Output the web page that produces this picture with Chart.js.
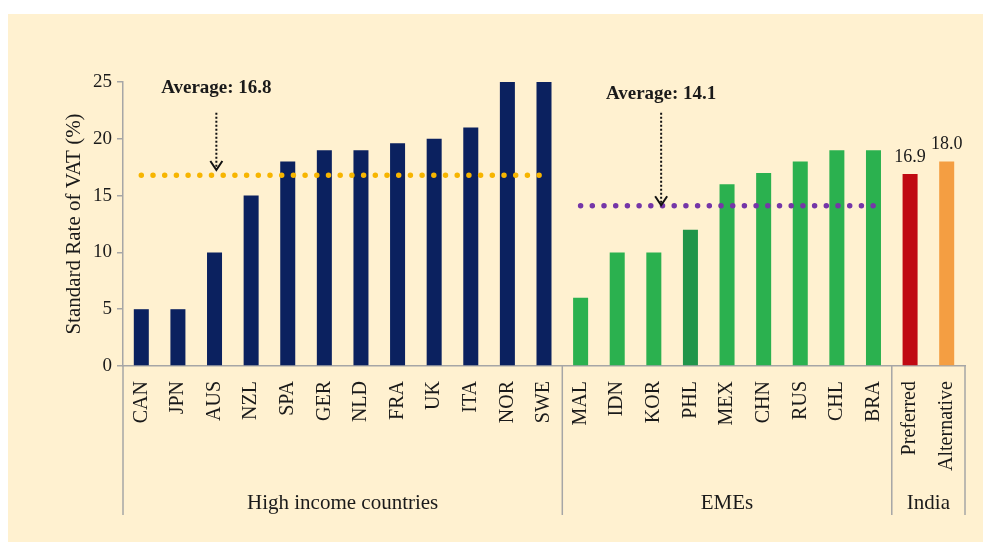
<!DOCTYPE html>
<html>
<head>
<meta charset="utf-8">
<script src="https://cdn.jsdelivr.net/npm/chart.js@4"></script>
<style>
  html, body { margin: 0; padding: 0; background: #fff; }
  #wrap { position: absolute; left: 8px; top: 14px; width: 975px; height: 528px; background: #FFF1D0; }
</style>
</head>
<body>
<div id="wrap"><canvas id="vatChart"></canvas></div>
<script>
// data
const categoriesHigh = ['CAN', 'JPN', 'AUS', 'NZL', 'SPA', 'GER', 'NLD', 'FRA', 'UK', 'ITA', 'NOR', 'SWE'];
const valuesHigh = [5, 5, 10, 15, 18, 19, 19, 19.6, 20, 21, 25, 25];
const categoriesEme = ['MAL', 'IDN', 'KOR', 'PHL', 'MEX', 'CHN', 'RUS', 'CHL', 'BRA'];
const valuesEme = [6, 10, 10, 12, 16, 17, 18, 19, 19];
const categoriesIndia = ['Preferred', 'Alternative'];
const valuesIndia = [16.9, 18.0];
const groupNames = ['High income countries', 'EMEs', 'India'];
const averageHigh = 16.8;
const averageEme = 14.1;
const yTicks = [0, 5, 10, 15, 20, 25];

const labels = categoriesHigh.concat(categoriesEme, categoriesIndia);
const values = valuesHigh.concat(valuesEme, valuesIndia);
const groupSizes = [categoriesHigh.length, categoriesEme.length, categoriesIndia.length];

const barColors = labels.map((l, i) => {
  if (i < categoriesHigh.length) return '#0B215F';
  if (l === 'PHL') return '#21954A';
  if (i < categoriesHigh.length + categoriesEme.length) return '#2BB14F';
  return l === 'Preferred' ? '#C00A12' : '#F49E42';
});

const avgHighData = labels.map((l, i) => i < categoriesHigh.length ? averageHigh : null);
const avgEmeData = labels.map((l, i) =>
  (i >= categoriesHigh.length && i < categoriesHigh.length + categoriesEme.length) ? averageEme : null);

const serif = '"Liberation Serif", "Times New Roman", serif';
const textColor = '#1a1a1a';
const lineGray = '#a6a6a6';

// group separators + group names under the axis
const groupPlugin = {
  id: 'groups',
  afterDraw(chart) {
    const ctx = chart.ctx;
    const x = chart.scales.x;
    const area = chart.chartArea;
    const lineBottom = area.bottom + 149;
    ctx.save();
    ctx.strokeStyle = lineGray;
    ctx.lineWidth = 1.5;
    let start = 0;
    const edges = [x.getPixelForValue(-0.5)];
    groupSizes.forEach((n, g) => {
      const end = start + n;
      const right = x.getPixelForValue(end - 0.5);
      edges.push(right);
      const mid = (x.getPixelForValue(start - 0.5) + right) / 2;
      ctx.fillStyle = textColor;
      ctx.font = '21px ' + serif;
      ctx.textAlign = 'center';
      ctx.textBaseline = 'middle';
      ctx.fillText(groupNames[g], mid, area.bottom + 137);
      start = end;
    });
    edges.forEach(px => {
      ctx.beginPath();
      ctx.moveTo(px, area.bottom);
      ctx.lineTo(px, lineBottom);
      ctx.stroke();
    });
    ctx.restore();
  }
};

// average captions with dotted arrows, value labels on India bars
const notesPlugin = {
  id: 'notes',
  afterDatasetsDraw(chart) {
    const ctx = chart.ctx;
    const x = chart.scales.x;
    const y = chart.scales.y;
    const notes = [
      { text: 'Average: ' + averageHigh, at: 2.05, textY: 24.5, from: 22.3, to: averageHigh + 0.45 },
      { text: 'Average: ' + averageEme, at: 14.2, textY: 23.9, from: 22.3, to: averageEme + 0.05 }
    ];
    ctx.save();
    notes.forEach(n => {
      const px = x.getPixelForValue(n.at);
      ctx.fillStyle = textColor;
      ctx.font = 'bold 19px ' + serif;
      ctx.textAlign = 'center';
      ctx.textBaseline = 'middle';
      ctx.fillText(n.text, px, y.getPixelForValue(n.textY));
      const y0 = y.getPixelForValue(n.from);
      const y1 = y.getPixelForValue(n.to);
      ctx.strokeStyle = '#111';
      ctx.lineWidth = 2;
      ctx.setLineDash([2, 2]);
      ctx.beginPath();
      ctx.moveTo(px, y0);
      ctx.lineTo(px, y1 - 2);
      ctx.stroke();
      ctx.setLineDash([]);
      ctx.beginPath();
      ctx.moveTo(px - 6, y1 - 9);
      ctx.lineTo(px, y1);
      ctx.lineTo(px + 6, y1 - 9);
      ctx.stroke();
    });

    const meta = chart.getDatasetMeta(0);
    ctx.font = '18px ' + serif;
    ctx.fillStyle = textColor;
    ctx.textAlign = 'center';
    ctx.textBaseline = 'bottom';
    const first = categoriesHigh.length + categoriesEme.length;
    valuesIndia.forEach((v, i) => {
      const bar = meta.data[first + i];
      ctx.fillText(v.toFixed(1), bar.x, bar.y - 8);
    });
    ctx.restore();
  }
};

new Chart(document.getElementById('vatChart'), {
  type: 'bar',
  data: {
    labels: labels,
    datasets: [
      {
        type: 'bar',
        data: values,
        backgroundColor: barColors,
        barPercentage: 0.41,
        categoryPercentage: 1,
        order: 1
      },
      {
        type: 'line',
        data: avgHighData,
        borderColor: '#F7B500',
        borderWidth: 5.5,
        borderDash: [0, 11.7],
        borderCapStyle: 'round',
        pointRadius: 0,
        order: 0
      },
      {
        type: 'line',
        data: avgEmeData,
        borderColor: '#7536A8',
        borderWidth: 5.5,
        borderDash: [0, 11.7],
        borderCapStyle: 'round',
        pointRadius: 0,
        order: 0
      }
    ]
  },
  options: {
    responsive: true,
    maintainAspectRatio: false,
    animation: false,
    layout: { padding: { top: 68, right: 18, left: 0, bottom: 0 } },
    plugins: {
      legend: { display: false },
      tooltip: { enabled: false }
    },
    scales: {
      x: {
        grid: { display: false },
        border: { color: lineGray, width: 1.5 },
        ticks: {
          autoSkip: false,
          minRotation: 90,
          maxRotation: 90,
          padding: 7,
          color: textColor,
          font: { family: serif, size: 20 }
        },
        afterFit(scale) { scale.height = 176; }
      },
      y: {
        min: 0,
        max: 25,
        afterBuildTicks(scale) { scale.ticks = yTicks.map(v => ({ value: v })); },
        grid: { drawOnChartArea: false, drawTicks: true, tickLength: 6, color: lineGray, lineWidth: 1.5 },
        border: { color: lineGray, width: 1.5 },
        ticks: {
          padding: 5,
          color: textColor,
          font: { family: serif, size: 19 }
        },
        title: {
          display: true,
          text: 'Standard Rate of VAT (%)',
          color: textColor,
          font: { family: serif, size: 21 },
          padding: { top: 54, bottom: 0 }
        },
        afterFit(scale) { scale.width = 115; }
      }
    }
  },
  plugins: [groupPlugin, notesPlugin]
});
</script>
</body>
</html>
